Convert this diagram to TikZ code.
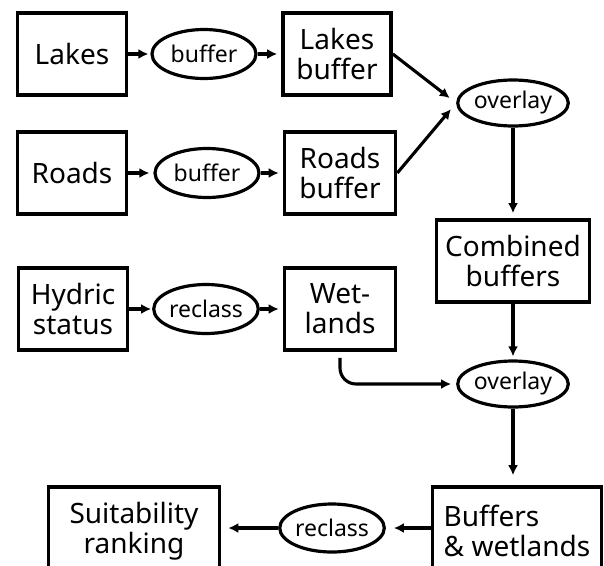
\documentclass[tikz,border=0pt]{standalone}
\usepackage{fontspec}
\setmainfont{Noto Sans}
\usetikzlibrary{positioning,shapes.geometric,arrows.meta}

\tikzset{
  dataset/.style={draw, line width=3.6pt, minimum width=109pt, minimum height=82pt,
    inner sep=0pt, align=center, font=\fontsize{28}{30}\selectfont},
  operation/.style={draw, ellipse, line width=3.2pt, minimum width=104pt, minimum height=49pt,
    inner sep=0pt, font=\fontsize{23}{26}\selectfont},
  flow/.style={line width=3.1pt, -{Latex[length=10pt,width=10pt]}, shorten >=4pt}
}

\begin{document}
\begin{tikzpicture}[x=1pt,y=-1pt]
      \useasboundingbox (0,0) rectangle (604,565);
      \clip (0,0) rectangle (604,565);

      % Lakes and roads
      \node[dataset] (lakes) at (72,54) {Lakes};
      \node[operation] (bufA) at (204,54) {buffer};
      \node[dataset, minimum width=108pt] (lakesbuf) at (337,54) {Lakes\\buffer};

      \node[dataset] (roads) at (72,173) {Roads};
      \node[operation] (bufB) at (207,173) {buffer};
      \node[dataset, minimum width=111pt] (roadsbuf) at (340,173) {Roads\\buffer};

      \node[operation, minimum width=98pt, minimum height=46pt] (ovA) at (513,103) {overlay};
      \node[dataset, minimum width=153pt] (combined) at (513,261) {Combined\\buffers};

      % Wetlands
      \node[dataset] (hydric) at (73,309) {Hydric\\status};
      \node[operation] (recA) at (206,309) {reclass};
      \node[dataset, minimum width=111pt] (wet) at (340,309) {Wet-\\lands};

      \node[operation, minimum width=98pt, minimum height=46pt] (ovB) at (513,384) {overlay};

      % Ranking
      \node[dataset, minimum width=169pt, minimum height=88pt, align=left] (bw) at (517,531) {Buffers\\\& wetlands};
      \node[operation, minimum width=101pt, minimum height=48pt] (recB) at (332,528) {reclass};
      \node[dataset, minimum width=171pt, minimum height=88pt] (suit) at (134,531) {Suitability\\ranking};

      % Flows
      \draw[flow, shorten >=2pt] (lakes) -- (bufA);
      \draw[flow] (bufA) -- (lakesbuf);
      \draw[flow] (roads) -- (bufB);
      \draw[flow] (bufB) -- (roadsbuf);
      \draw[flow, shorten >=8pt] (lakesbuf.east) -- (ovA.west);
      \draw[flow, shorten >=8pt] (roadsbuf.east) -- (ovA.west);
      \draw[flow, shorten >=5pt] (ovA) -- (combined);

      \draw[flow, shorten >=1pt] (hydric) -- (recA);
      \draw[flow] (recA) -- (wet);
      \draw[flow, shorten >=3pt] (combined) -- (ovB);
      \draw[flow, rounded corners=16pt, shorten <=6pt, shorten >=5pt] (wet.south) |- (ovB.west);

      \draw[flow, shorten >=10pt] (ovB.south) -- (ovB.south |- bw.north);
      \draw[flow, shorten >=8pt] (bw.west |- recB) -- (recB.east);
      \draw[flow, shorten >=7pt] (recB.west) -- (suit.east |- recB);
\end{tikzpicture}
\end{document}
